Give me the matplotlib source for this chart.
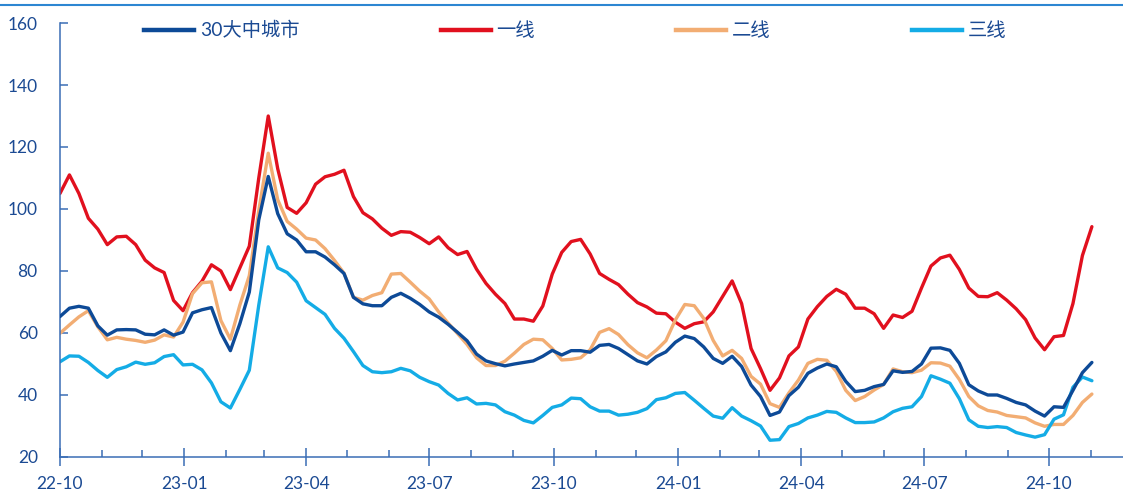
import matplotlib
matplotlib.use("Agg")
import matplotlib.pyplot as plt
import matplotlib.dates as mdates
from matplotlib.lines import Line2D
import pandas as pd

# Weekly observations, 2022-10-01 onward
start_date = "2022-10-01"
n_weeks = 110

tier_all = [
    65.3, 68.0, 68.6, 68.0, 62.3, 59.3, 61.0, 61.1, 61.0, 59.6,
    59.4, 61.0, 59.3, 60.3, 66.5, 67.5, 68.2, 60.0, 54.3, 63.0,
    73.2, 96.5, 110.5, 98.5, 92.0, 90.0, 86.2, 86.2, 84.5, 82.0,
    79.2, 71.5, 69.4, 68.8, 68.8, 71.5, 72.8, 71.2, 69.2, 66.8,
    65.1, 62.8, 60.2, 57.5, 53.2, 51.0, 50.1, 49.4, 50.0, 50.5,
    51.0, 52.5, 54.4, 52.9, 54.3, 54.3, 53.8, 56.0, 56.3, 55.0,
    53.0, 51.0, 50.0, 52.4, 53.9, 57.0, 59.0, 58.2, 55.5, 51.8,
    50.2, 52.5, 49.2, 43.2, 39.5, 33.4, 34.5, 39.8, 42.5, 47.0,
    48.7, 50.0, 49.1, 44.4, 41.1, 41.5, 42.7, 43.4, 47.8, 47.3,
    47.6, 50.0, 55.1, 55.2, 54.4, 50.2, 43.3, 41.3, 40.0, 40.0,
    38.9, 37.6, 36.8, 34.8, 33.2, 36.2, 36.0, 41.5, 47.2, 50.5,
]

tier_1 = [
    105.0, 111.0, 105.0, 97.0, 93.5, 88.5, 91.0, 91.2, 88.5, 83.5,
    81.0, 79.5, 70.5, 67.2, 73.0, 76.7, 82.0, 80.0, 74.0, 81.0,
    88.0, 110.0, 130.0, 113.0, 100.5, 98.6, 102.0, 108.0, 110.4, 111.2,
    112.5, 104.0, 98.8, 96.8, 93.8, 91.5, 92.7, 92.5, 90.8, 88.8,
    91.0, 87.5, 85.3, 86.3, 80.6, 76.0, 72.5, 69.5, 64.5, 64.5,
    63.8, 68.7, 79.0, 86.0, 89.5, 90.2, 85.5, 79.2, 77.3, 75.6,
    72.5, 69.8, 68.4, 66.4, 66.2, 63.5, 61.5, 63.0, 63.6, 66.8,
    71.8, 76.8, 69.5, 55.0, 48.5, 41.5, 45.5, 52.6, 55.5, 64.5,
    68.5, 71.8, 74.1, 72.5, 68.0, 68.0, 66.2, 61.5, 65.8, 65.0,
    67.0, 74.5, 81.6, 84.2, 85.1, 80.5, 74.5, 71.8, 71.7, 73.0,
    70.6, 67.8, 64.3, 58.4, 54.6, 58.8, 59.2, 69.5, 85.0, 94.3,
]

tier_2 = [
    59.9, 62.6, 65.2, 67.2, 62.0, 57.8, 58.6, 58.0, 57.6, 57.0,
    57.7, 59.4, 58.7, 63.5, 72.7, 76.2, 76.5, 64.0, 58.0, 69.0,
    78.5, 99.5, 118.0, 103.0, 96.0, 93.5, 90.6, 90.0, 87.2, 83.4,
    79.3, 71.5, 70.6, 72.1, 73.0, 79.0, 79.2, 76.4, 73.5, 71.0,
    66.8, 63.2, 59.8, 56.3, 52.0, 49.5, 49.5, 50.9, 53.5, 56.3,
    58.0, 57.8, 55.0, 51.3, 51.5, 52.0, 54.6, 60.2, 61.4, 59.5,
    56.2, 53.6, 52.0, 54.5, 57.5, 64.2, 69.2, 68.8, 64.7, 57.6,
    52.6, 54.4, 51.8, 46.0, 43.5, 37.2, 36.0, 40.7, 44.8, 50.2,
    51.5, 51.2, 47.6, 41.5, 38.2, 39.5, 41.6, 43.4, 48.4, 47.5,
    47.2, 48.0, 50.4, 50.3, 49.3, 45.0, 39.5, 36.5, 35.0, 34.5,
    33.4, 33.0, 32.6, 31.0, 29.9, 30.5, 30.5, 33.4, 37.6, 40.3,
]

tier_3 = [
    50.7, 52.6, 52.5, 50.5, 47.9, 45.7, 48.2, 49.1, 50.6, 49.9,
    50.4, 52.4, 53.0, 49.7, 49.9, 48.1, 43.9, 37.8, 35.8, 41.8,
    48.0, 69.0, 87.8, 81.0, 79.5, 76.4, 70.4, 68.2, 66.0, 61.5,
    58.3, 54.0, 49.5, 47.5, 47.2, 47.5, 48.6, 47.8, 45.7, 44.3,
    43.2, 40.5, 38.4, 39.1, 37.1, 37.3, 36.8, 34.6, 33.5, 31.8,
    31.0, 33.4, 36.0, 36.8, 39.0, 38.8, 36.2, 34.8, 34.8, 33.5,
    33.8, 34.4, 35.6, 38.5, 39.1, 40.5, 40.8, 38.3, 35.7, 33.2,
    32.5, 35.9, 33.2, 31.7, 30.0, 25.4, 25.6, 29.8, 30.8, 32.6,
    33.5, 34.7, 34.4, 32.6, 31.1, 31.1, 31.3, 32.6, 34.6, 35.7,
    36.2, 39.5, 46.2, 45.1, 43.8, 38.8, 32.0, 29.9, 29.5, 29.8,
    29.5, 27.9, 27.1, 26.4, 27.2, 32.2, 33.6, 42.5, 45.8, 44.6,
]

series_names = ["30大中城市", "一线", "二线", "三线"]
series_colors = ["#0D4A97", "#E1101E", "#F2AD73", "#14ACE6"]

label_color = "#1B4A93"
axis_color = "#3A6DB5"

dates = pd.date_range(start_date, periods=n_weeks, freq="7D")

plt.rcParams["font.family"] = ["Lato", "Noto Sans CJK SC", "DejaVu Sans"]

fig = plt.figure(figsize=(11.23, 4.99), dpi=100)
ax = fig.add_axes([0.0534, 0.0842, 0.9466, 0.8697])

for values, name, color in zip([tier_all, tier_1, tier_2, tier_3],
                               series_names, series_colors):
    ax.plot(dates, values, color=color, lw=2.4, label=name,
            solid_joinstyle="round", solid_capstyle="round")

# keep the 30-city line on top
ax.lines[0].set_zorder(5)

ax.set_ylim(20, 160)
ax.set_yticks(range(20, 161, 20))
ax.set_xlim(pd.Timestamp("2022-10-01"), pd.Timestamp("2024-11-25"))

ax.xaxis.set_major_locator(mdates.MonthLocator(bymonth=[1, 4, 7, 10]))
ax.xaxis.set_major_formatter(mdates.DateFormatter("%y-%m"))
ax.xaxis.set_minor_locator(mdates.MonthLocator())

for side in ("top", "right"):
    ax.spines[side].set_visible(False)
for side in ("left", "bottom"):
    ax.spines[side].set_color(axis_color)
    ax.spines[side].set_linewidth(1.1)

ax.tick_params(axis="x", which="major", direction="inout", length=13,
               width=1.1, color=axis_color, labelsize=12.5,
               labelcolor=label_color, pad=7)
ax.tick_params(axis="x", which="minor", direction="in", length=5,
               width=1.1, color=axis_color)
ax.tick_params(axis="y", which="major", direction="in", length=6,
               width=1.1, color=axis_color, labelsize=12.5,
               labelcolor=label_color, pad=16)

fs = 13.9
fs_px = fs * 100 / 72
handles = [Line2D([], [], color=c, lw=3.2) for c in series_colors]
leg = fig.legend(handles, series_names, ncol=4, frameon=False,
                 loc="upper left", bbox_to_anchor=(144 / 1123, 1 - 21 / 499),
                 fontsize=fs, handlelength=50 / fs_px,
                 handletextpad=6 / fs_px, columnspacing=141 / fs_px,
                 borderpad=0, borderaxespad=0)
for t in leg.get_texts():
    t.set_color(label_color)

# thin rule along the top edge
fig.add_artist(Line2D([0, 1], [1 - 4.5 / 499, 1 - 4.5 / 499],
                      transform=fig.transFigure, color="#2C86D2", lw=1.5))

fig.savefig("out.png", dpi=100)
